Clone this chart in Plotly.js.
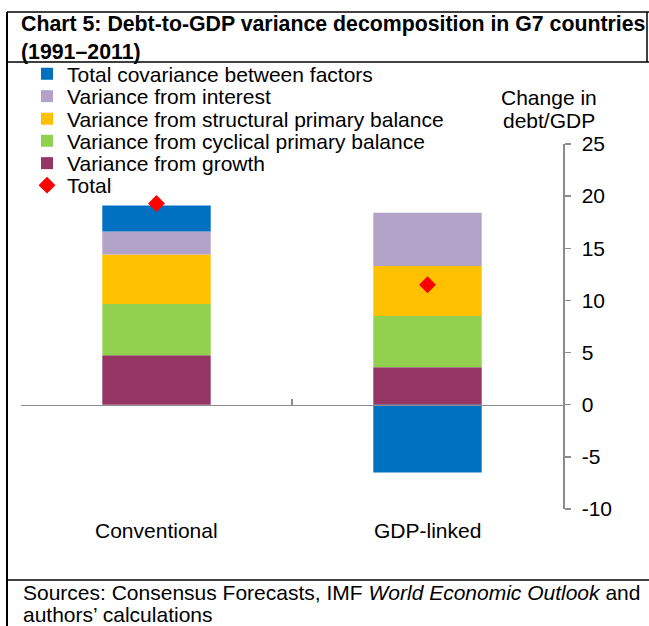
<!DOCTYPE html>
<html>
<head>
<meta charset="utf-8">
<script src="https://cdn.plot.ly/plotly-3.0.1.min.js"></script>
<style>html,body{margin:0;padding:0;background:#fff;}#chart{width:649px;height:626px;}</style>
</head>
<body>
<div id="chart"></div>
<script>
// ---- Data ----
var categories = ["Conventional", "GDP-linked"];
var growth = [4.75, 3.6];
var cyclical = [4.9, 4.9];
var structural = [4.75, 4.8];
var interest = [2.2, 5.1];
var covariance = [2.5, -6.5];
var total = [19.3, 11.5];
var seriesNames = [
  "Variance from growth",
  "Variance from cyclical primary balance",
  "Variance from structural primary balance",
  "Variance from interest",
  "Total covariance between factors",
  "Total"
];
var yTicks = [-10, -5, 0, 5, 10, 15, 20, 25];

// ---- Layout helpers (pixel -> paper) ----
var W = 649, H = 626;
var ML = 21, MR = 86, MT = 144, MB = 117;
var PW = W - ML - MR, PH = H - MT - MB;
function px(p) { return (p - ML) / PW; }
function py(p) { return (H - MB - p) / PH; }

var FONT = "Liberation Sans, Arial, sans-serif";
var FS = 21;
var colors = ["#953563", "#92D050", "#FFC000", "#B3A2C7", "#0070C0", "#FF0000"];
// legend row (0 = top) for each series, and its pixel centre
var legendRow = [4, 3, 2, 1, 0, 5];
var rowCentres = [74, 96.5, 119, 141, 163.5, 185.5];
var values = [growth, cyclical, structural, interest, covariance];

function legendId(i) { return i === 0 ? "legend" : "legend" + (i + 1); }

var traces = values.map(function (v, i) {
  return {
    type: "bar", x: categories, y: v, name: seriesNames[i],
    marker: { color: colors[i], line: { width: 0 } },
    legend: legendId(legendRow[i]), hoverinfo: "none"
  };
});
traces.push({
  type: "scatter", mode: "markers", x: categories, y: total, name: seriesNames[5],
  marker: { symbol: "diamond", color: colors[5], size: 13 },
  legend: legendId(legendRow[5]), hoverinfo: "none"
});

var lineStyle = { color: "#000", width: 1.5 };
var shapes = [
  { type: "line", xref: "paper", yref: "paper", x0: px(7), x1: px(649), y0: py(12), y1: py(12), line: lineStyle },
  { type: "line", xref: "paper", yref: "paper", x0: px(7), x1: px(649), y0: py(62), y1: py(62), line: lineStyle },
  { type: "line", xref: "paper", yref: "paper", x0: px(647), x1: px(647), y0: py(12), y1: py(62), line: lineStyle },
  { type: "line", xref: "paper", yref: "paper", x0: px(7), x1: px(649), y0: py(580), y1: py(580), line: lineStyle },
  { type: "line", xref: "paper", yref: "paper", x0: px(7), x1: px(7), y0: py(12), y1: py(626), line: { color: "#000", width: 2 } }
];

function txt(x, y, t, anchor) {
  return { xref: "paper", yref: "paper", x: px(x), y: py(y), text: t, showarrow: false,
    xanchor: anchor, yanchor: "middle", align: anchor === "left" ? "left" : "center",
    font: { family: FONT, size: FS, color: "#000" } };
}
var annotations = [
  txt(548.5, 97, "Change in", "center"),
  txt(548.5, 121, "debt/GDP", "center"),
  txt(21, 592, "Sources: Consensus Forecasts, IMF <i>World Economic Outlook</i> and", "left"),
  txt(21, 614, "authors\u2019 calculations", "left")
];
categories.forEach(function (c) {
  annotations.push({ xref: "x", yref: "paper", x: c, y: py(530), text: c, showarrow: false,
    xanchor: "center", yanchor: "middle", font: { family: FONT, size: FS, color: "#000" } });
});

var layout = {
  width: W, height: H,
  margin: { l: ML, r: MR, t: MT, b: MB, autoexpand: false },
  paper_bgcolor: "#fff", plot_bgcolor: "#fff",
  font: { family: FONT, size: FS, color: "#000" },
  title: {
    text: "<b>Chart 5: Debt-to-GDP variance decomposition in G7 countries<br>(1991\u20132011)</b>",
    xref: "container", yref: "container", x: 21 / W, xanchor: "left",
    y: 1 - 31 / H, yanchor: "top",
    font: { family: FONT, size: 21.3, color: "#000" }
  },
  barmode: "relative",
  bargap: 0.6,
  showlegend: true,
  xaxis: {
    type: "category", anchor: "free", position: 10 / 35,
    showline: true, linecolor: "#8c8c8c", linewidth: 1.5,
    ticks: "inside", tickson: "boundaries", ticklen: 6, tickcolor: "#8c8c8c", tickwidth: 1.5,
    showticklabels: false, showgrid: false, zeroline: false, fixedrange: true
  },
  yaxis: {
    side: "right", range: [-10, 25], tickvals: yTicks, ticktext: yTicks.map(String),
    showline: true, linecolor: "#8c8c8c", linewidth: 1.5,
    ticks: "outside", ticklen: 6, tickcolor: "#8c8c8c", tickwidth: 1.5,
    ticklabelstandoff: 7,
    showgrid: false, zeroline: false, fixedrange: true,
    tickfont: { family: FONT, size: FS, color: "#000" }
  },
  shapes: shapes,
  annotations: annotations
};
for (var r = 0; r < rowCentres.length; r++) {
  layout[legendId(r)] = {
    x: px(27), y: py(rowCentres[r]), xanchor: "left", yanchor: "middle",
    bgcolor: "rgba(0,0,0,0)", borderwidth: 0,
    font: { family: FONT, size: FS, color: "#000" }, itemclick: false
  };
}

Plotly.newPlot("chart", traces, layout, { displayModeBar: false, staticPlot: true });
</script>
</body>
</html>
